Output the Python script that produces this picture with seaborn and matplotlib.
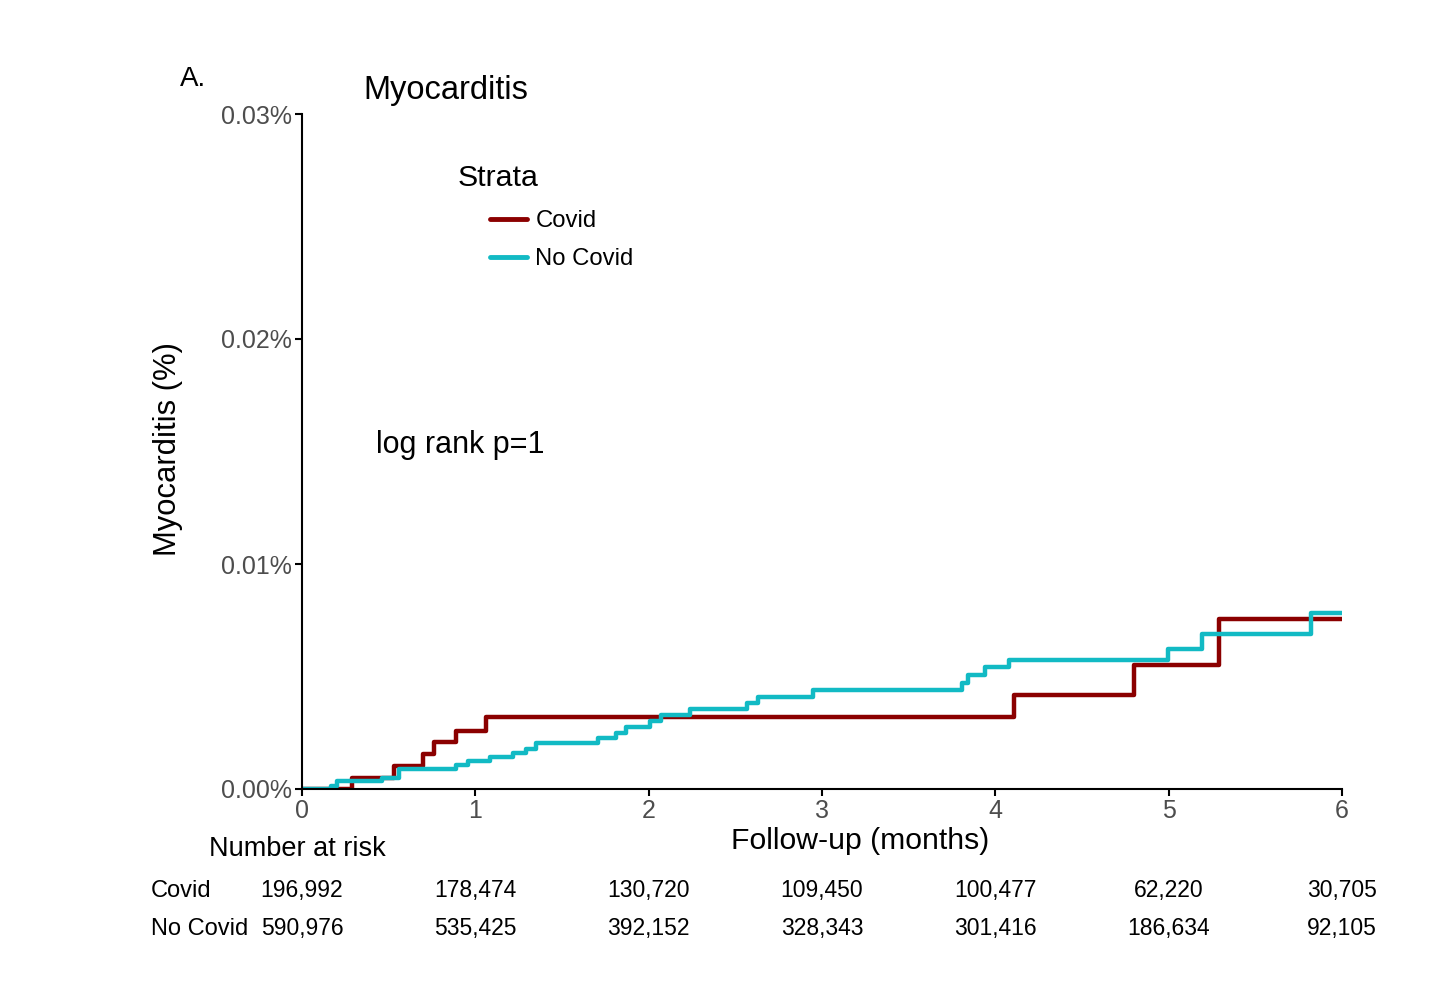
import numpy as np
import pandas as pd
import matplotlib
matplotlib.use("Agg")
import matplotlib.pyplot as plt
import matplotlib.transforms as mtransforms
import seaborn as sns

# ---- data (cumulative incidence, %) ----
covid_time = [0.0, 0.29, 0.53, 0.70, 0.76, 0.89, 1.06, 4.11, 4.80, 5.29, 6.0]
covid_cum = [0.0, 0.00050, 0.00102, 0.00156, 0.00207, 0.00259, 0.00319,
             0.00418, 0.00551, 0.00754, 0.00754]

nocovid_time = [0.0, 0.167, 0.20, 0.46, 0.56, 0.89, 0.96, 1.085, 1.22, 1.29, 1.35,
                1.71, 1.81, 1.87, 2.01, 2.07, 2.24, 2.57, 2.63, 2.95, 3.81, 3.845,
                3.94, 4.08, 4.995, 5.19, 5.82, 6.0]
nocovid_cum = [0.0, 0.00013, 0.00037, 0.00047, 0.00088, 0.00107, 0.00124, 0.00141,
               0.00159, 0.00176, 0.00206, 0.00225, 0.00247, 0.00277, 0.00304,
               0.00329, 0.00354, 0.00384, 0.00410, 0.00440, 0.00472, 0.00507,
               0.00541, 0.00573, 0.00622, 0.00689, 0.00784, 0.00784]

strata = ["Covid", "No Covid"]
colors = ["#8B0000", "#12BAC4"]
risk_times = [0, 1, 2, 3, 4, 5, 6]
risk_covid = ["196,992", "178,474", "130,720", "109,450", "100,477", "62,220", "30,705"]
risk_nocovid = ["590,976", "535,425", "392,152", "328,343", "301,416", "186,634", "92,105"]
y_ticks = [0.0, 0.01, 0.02, 0.03]
x_ticks = [0, 1, 2, 3, 4, 5, 6]

df = pd.concat([
    pd.DataFrame({"time": covid_time, "cum": covid_cum, "strata": strata[0]}),
    pd.DataFrame({"time": nocovid_time, "cum": nocovid_cum, "strata": strata[1]}),
], ignore_index=True)

sns.set_theme(style="white")
plt.rcParams["font.family"] = ["Liberation Sans", "DejaVu Sans"]
plt.rcParams["text.color"] = "black"

fig = plt.figure(figsize=(14.56, 9.83), dpi=100)
W, H = 1456, 983
ax = fig.add_axes([302 / W, 1 - 789 / H, (1342 - 302) / W, (789 - 114) / H])

sns.lineplot(data=df, x="time", y="cum", hue="strata", palette=dict(zip(strata, colors)),
             drawstyle="steps-post", linewidth=3.2, estimator=None, sort=False, ax=ax,
             legend=False)

ax.set_xlim(0, 6)
ax.set_ylim(0, 0.03)
ax.set_xticks(x_ticks)
ax.set_xticklabels([str(t) for t in x_ticks])
ax.set_yticks(y_ticks)
ax.set_yticklabels([f"{v:.2f}%" for v in y_ticks])
ax.tick_params(axis="both", colors="#4D4D4D", labelsize=18, length=5, width=1.5,
               direction="out", pad=2, left=True, bottom=True)
ax.tick_params(axis="both", color="black")
for s in ["top", "right"]:
    ax.spines[s].set_visible(False)
for s in ["left", "bottom"]:
    ax.spines[s].set_color("black")
    ax.spines[s].set_linewidth(1.5)
ax.set_xlabel("")
ax.set_ylabel("")
ax.patch.set_alpha(0)

# axis labels
fig.text(860 / W, 1 - 841 / H, "Follow-up (months)", ha="center", va="center", fontsize=21.7)
fig.text(168 / W, 1 - 449 / H, "Myocarditis (%)", ha="center", va="center", fontsize=22.3,
         rotation=90)

# titles/annotations
fig.text(180 / W, 1 - 79 / H, "A.", ha="left", va="center", fontsize=20)
fig.text(363 / W, 1 - 91 / H, "Myocarditis", ha="left", va="center", fontsize=23.5)
fig.text(376 / W, 1 - 445 / H, "log rank p=1", ha="left", va="center", fontsize=22)
fig.text(458 / W, 1 - 178 / H, "Strata", ha="left", va="center", fontsize=21.8)

# legend
handles = [plt.Line2D([], [], color=c, lw=3.5) for c in colors]
fig.legend(handles, strata, loc="upper left", bbox_to_anchor=(490 / W, 1 - 210 / H),
           frameon=False, fontsize=17.2, handlelength=1.55, handletextpad=0.35,
           labelspacing=0.68, borderpad=0, borderaxespad=0)

# risk table
fig.text(209 / W, 1 - 849 / H, "Number at risk", ha="left", va="center", fontsize=19.5)
fig.text(151 / W, 1 - 891 / H, strata[0], ha="left", va="center", fontsize=17)
fig.text(151 / W, 1 - 929 / H, strata[1], ha="left", va="center", fontsize=17)
trans = mtransforms.blended_transform_factory(ax.transData, fig.transFigure)
for t, a, b in zip(risk_times, risk_covid, risk_nocovid):
    fig.text(t, 1 - 891 / H, a, ha="center", va="center", fontsize=16.5, transform=trans)
    fig.text(t, 1 - 929 / H, b, ha="center", va="center", fontsize=16.5, transform=trans)

fig.savefig("out.png", dpi=100, facecolor="white")
